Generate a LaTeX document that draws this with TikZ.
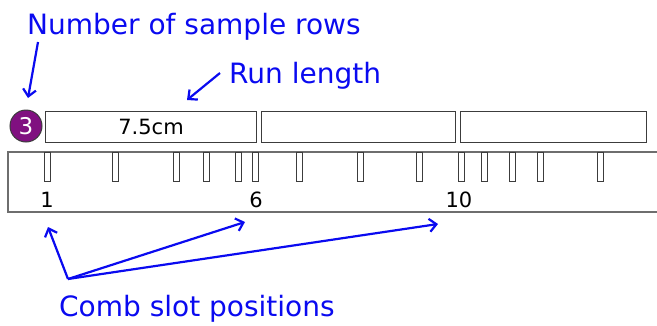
\documentclass[tikz,border=0pt]{standalone}
\usepackage{fontspec}
\setmainfont{DejaVu Sans}
\usetikzlibrary{arrows.meta}
\definecolor{lblue}{RGB}{10,10,240}
\definecolor{rowpurple}{RGB}{128,16,128}
\definecolor{edgegray}{RGB}{60,60,60}
\definecolor{combgray}{RGB}{110,110,110}
\tikzset{
  lbl/.style={text=lblue, font=\fontsize{28}{30}\selectfont, inner sep=0pt, anchor=base west},
  blarrow/.style={draw=lblue, line width=2.2pt, -{Straight Barb[length=7pt,width=13pt,line width=2.2pt]}},
  runbox/.style={draw=edgegray, line width=1.1pt, anchor=north west, minimum height=31pt, inner sep=0pt, font=\fontsize{21}{23}\selectfont},
  slot/.style={draw=edgegray, line width=0.9pt, fill=white, anchor=north west, minimum width=6pt, minimum height=29pt, inner sep=0pt},
  poslbl/.style={font=\fontsize{21}{23}\selectfont, inner sep=0pt, anchor=base},
}
\begin{document}
\begin{tikzpicture}[x=1pt,y=-1pt]
\useasboundingbox (0,0) rectangle (657,325);
% comb
\draw[combgray, line width=1.6pt] (657,152) -- (8,152) -- (8,212) -- (657,212);
\foreach \xx [count=\i] in {44,112,173,203,235,252,296,357,416,458,481,509,537,597}
  \node[slot] (s\i) at (\xx,152) {};
\node[poslbl] (p1) at (47,207) {1};
\node[poslbl] (p6) at (256,207) {6};
\node[poslbl] (p10) at (459,207) {10};
% run boxes
\node[runbox, minimum width=211pt] (r1) at (45,111) {7.5cm};
\node[runbox, minimum width=194pt] (r2) at (261,111) {};
\node[runbox, minimum width=186pt] (r3) at (460,111) {};
% number of rows circle
\node[circle, draw=edgegray, line width=1pt, fill=rowpurple, minimum size=32pt, inner sep=0pt, text=white, font=\fontsize{23}{25}\selectfont] (rows) at (26,126) {3};
% labels
\node[lbl] (tnum) at (27,34) {Number of sample rows};
\node[lbl] (trun) at (229,83) {Run length};
\node[lbl] (tcomb) at (59,316) {Comb slot positions};
% arrows
\coordinate (anum) at (38,42);
\coordinate (arun) at (220,73);
\coordinate (acomb) at (68,279);
\coordinate (t1) at (48,227);
\coordinate (t6) at (245,222);
\coordinate (t10) at (438,224);
\coordinate (hnum) at (28,98);
\coordinate (hrun) at (187,100);
\draw[blarrow] (anum) -- (hnum);
\draw[blarrow] (arun) -- (hrun);
\draw[blarrow] (acomb) -- (t1);
\draw[blarrow] (acomb) -- (t6);
\draw[blarrow] (acomb) -- (t10);
\end{tikzpicture}
\end{document}
